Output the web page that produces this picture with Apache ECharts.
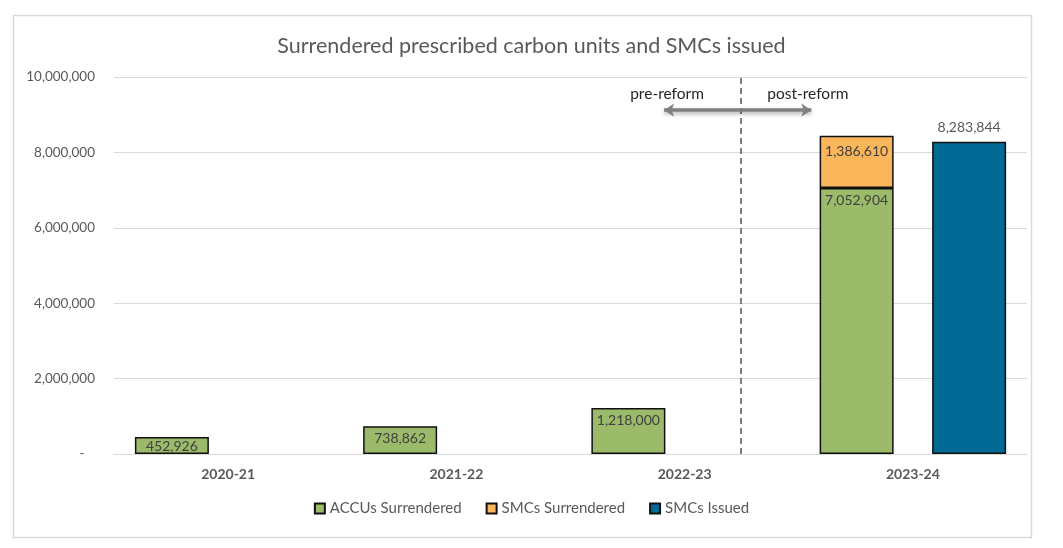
<!DOCTYPE html>
<html>
<head>
<meta charset="utf-8">
<script src="https://cdn.jsdelivr.net/npm/echarts@6/dist/echarts.min.js"></script>
<style>
  html, body { margin: 0; padding: 0; background: #fff; }
  #chart { width: 1063px; height: 548px; }
</style>
</head>
<body>
<div id="chart"></div>
<script>
// data
var years = ["2020-21", "2021-22", "2022-23", "2023-24"];
var accusSurrendered = [452926, 738862, 1218000, 7052904];
var smcsSurrendered = [null, null, null, 1386610];
var smcsIssued = [null, null, null, 8283844];
var yTicks = [0, 2000000, 4000000, 6000000, 8000000, 10000000];

var mychart = echarts.init(document.getElementById("chart"));
var font = "Lato, 'Open Sans', sans-serif";

function fmt(v) {
    return Number(v).toLocaleString("en-US");
}

var option = {
    textStyle: { fontFamily: font },
    graphic: [{
        type: "rect",
        shape: { x: 13.5, y: 15.5, width: 1018, height: 522 },
        style: { fill: "none", stroke: "#d9d9d9", lineWidth: 1.5 },
        silent: true
    }],
    title: {
        text: "Surrendered prescribed carbon units and SMCs issued",
        left: "center",
        top: 30,
        textStyle: { color: "#595959", fontSize: 21.5, fontWeight: "normal", fontFamily: font }
    },
    legend: {
        bottom: 27,
        left: "center",
        data: ["ACCUs Surrendered", "SMCs Surrendered", "SMCs Issued"],
        icon: "rect",
        itemWidth: 10,
        itemHeight: 10,
        itemGap: 24,
        textStyle: { color: "#595959", fontSize: 15, fontFamily: font }
    },
    grid: {
        top: 77,
        bottom: 94,
        left: 114,
        right: 36
    },
    xAxis: [{
        type: "category",
        data: years,
        axisTick: { show: false },
        axisLine: { lineStyle: { color: "#d9d9d9", width: 1 } },
        axisLabel: { color: "#595959", fontSize: 14, fontWeight: "bold", margin: 13 }
    }, {
        // hidden helper axis for the reform annotation
        type: "value",
        min: 0,
        max: 4,
        show: false
    }],
    yAxis: {
        type: "value",
        min: yTicks[0],
        max: yTicks[yTicks.length - 1],
        interval: 2000000,
        axisLine: { show: false },
        axisTick: { show: false },
        splitLine: { lineStyle: { color: "#d9d9d9" } },
        axisLabel: {
            color: "#595959",
            fontSize: 13.5,
            margin: 19,
            formatter: function (v) { return v === 0 ? "-   " : fmt(v); }
        }
    },
    series: [{
        name: "ACCUs Surrendered",
        type: "bar",
        stack: "surr",
        barWidth: 74,
        barGap: "52%",
        data: accusSurrendered,
        itemStyle: { color: "#9bbb6a", borderColor: "#111", borderWidth: 1.5 },
        label: {
            show: true,
            position: "insideTop",
            distance: 5,
            color: "#404040",
            fontSize: 14,
            formatter: function (p) { return fmt(p.value); }
        },
        // short bars: centre the label in the bar like the original
        labelLayout: function (p) {
            if (p.rect.height < 26) {
                return {
                    x: p.rect.x + p.rect.width / 2,
                    y: p.rect.y + p.rect.height / 2 + 1,
                    align: "center",
                    verticalAlign: "middle"
                };
            }
            return {};
        }
    }, {
        name: "SMCs Surrendered",
        type: "bar",
        stack: "surr",
        barWidth: 74,
        data: smcsSurrendered,
        itemStyle: { color: "#f9b65a", borderColor: "#111", borderWidth: 1.5 },
        label: {
            show: true,
            position: "insideTop",
            distance: 9,
            color: "#404040",
            fontSize: 14,
            formatter: function (p) { return fmt(p.value); }
        }
    }, {
        name: "SMCs Issued",
        type: "bar",
        barWidth: 74,
        data: smcsIssued,
        itemStyle: { color: "#006a94", borderColor: "#111", borderWidth: 1.5 },
        label: {
            show: true,
            position: "top",
            distance: 7,
            color: "#595959",
            fontSize: 14,
            formatter: function (p) { return fmt(p.value); }
        }
    }, {
        name: "reform",
        type: "scatter",
        xAxisIndex: 1,
        yAxisIndex: 0,
        symbolSize: 0,
        silent: true,
        data: [[2.747, 0]],
        markLine: {
            silent: true,
            animation: false,
            label: { show: false },
            data: [
                [{ coord: [2.747, 0], symbol: "none", lineStyle: { type: [6, 4], color: "#7f7f7f", width: 2 } },
                 { coord: [2.747, 10000000], symbol: "none" }],
                [{ coord: [2.41, 9120000], symbol: "arrow", symbolSize: [10, 10],
                   lineStyle: { type: "solid", color: "#7f7f7f", width: 3.5,
                                shadowColor: "rgba(0,0,0,0.35)", shadowBlur: 4, shadowOffsetY: 2 } },
                 { coord: [3.055, 9120000], symbol: "arrow", symbolSize: [10, 10] }]
            ]
        },
        markPoint: {
            silent: true,
            symbol: "rect",
            symbolSize: 0,
            label: {
                show: true,
                position: "inside",
                color: "#262626",
                fontSize: 15.5,
                formatter: "{b}"
            },
            data: [
                { name: "pre-reform", coord: [2.423, 9550000] },
                { name: "post-reform", coord: [3.04, 9550000] }
            ]
        }
    }]
};

mychart.setOption(option);
</script>
</body>
</html>
